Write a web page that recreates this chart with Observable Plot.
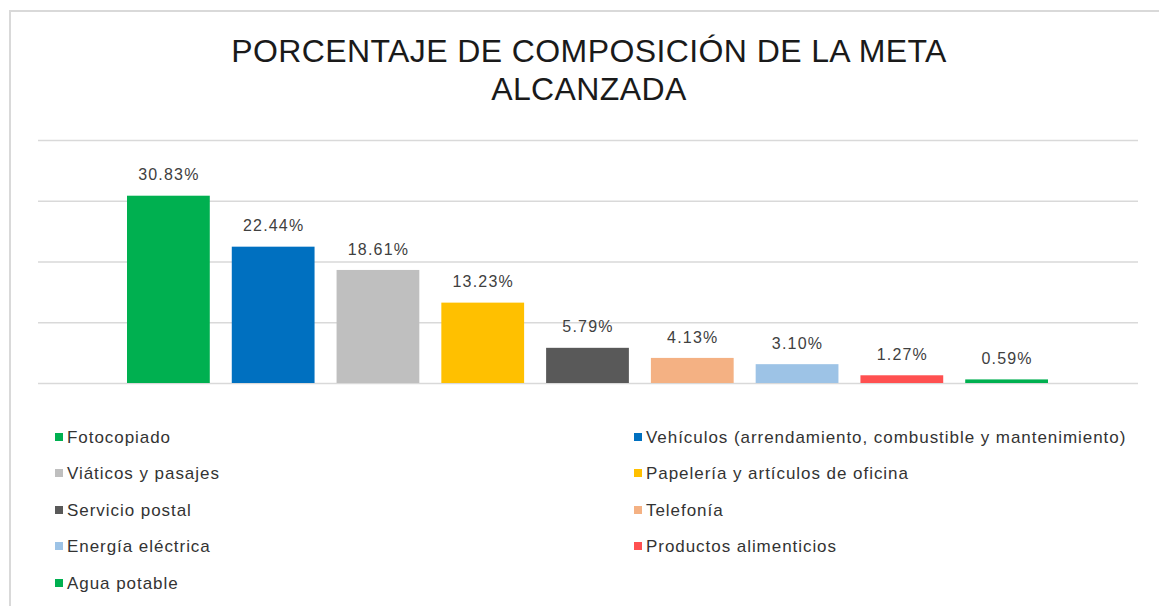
<!DOCTYPE html>
<html>
<head>
<meta charset="utf-8">
<script src="https://cdn.jsdelivr.net/npm/d3@7"></script>
<script src="https://cdn.jsdelivr.net/npm/@observablehq/plot@0.6"></script>
<style>
  html, body { margin: 0; padding: 0; background: #fff; width: 1159px; height: 606px; overflow: hidden; }
  body { position: relative; font-family: "Liberation Sans", Arial, sans-serif; }
  #frame { position: absolute; left: 9px; top: 10px; width: 1170px; height: 620px; border: 2px solid #d9d9d9; box-sizing: border-box; }
  #title { position: absolute; left: 0; width: 1178px; top: 32px; text-align: center; font-size: 32px; line-height: 38px; letter-spacing: 0.4px; color: #1a1a1a; }
  #chart { position: absolute; left: 0; top: 0; }
  #chart text { letter-spacing: 1.2px; }
  .leg { position: absolute; font-size: 17px; letter-spacing: 0.95px; color: #333; white-space: nowrap; line-height: 20px; }
  .leg span.sw { display: inline-block; width: 8px; height: 8px; margin-right: 4px; vertical-align: 2px; }
</style>
</head>
<body>
<div id="frame"></div>
<div id="title">PORCENTAJE DE COMPOSICIÓN DE LA META<br>ALCANZADA</div>
<div id="chart"></div>
<div id="legend"></div>
<script>
const categories = ["Fotocopiado", "Vehículos (arrendamiento, combustible y mantenimiento)", "Viáticos y pasajes", "Papelería y artículos de oficina", "Servicio postal", "Telefonía", "Energía eléctrica", "Productos alimenticios", "Agua potable"];
const values = [30.83, 22.44, 18.61, 13.23, 5.79, 4.13, 3.10, 1.27, 0.59];
const labels = ["30.83%", "22.44%", "18.61%", "13.23%", "5.79%", "4.13%", "3.10%", "1.27%", "0.59%"];
const colors = ["#00B050", "#0070C0", "#BFBFBF", "#FFC000", "#595959", "#F4B183", "#9DC3E6", "#FF5050", "#00B050"];
const gridTicks = [0, 10, 20, 30, 40];

const data = categories.map((c, i) => ({category: c, value: values[i], label: labels[i], color: colors[i]}));

const chart = Plot.plot({
  width: 1159,
  height: 400,
  marginTop: 140,
  marginBottom: 17,
  marginLeft: 38,
  marginRight: 21,
  style: {background: "transparent", fontFamily: "Liberation Sans, Arial, sans-serif"},
  x: {domain: categories, range: [105, 1070], padding: 0.21, round: false, axis: null},
  y: {domain: [0, 40], axis: null},
  marks: [
    Plot.ruleY(gridTicks, {stroke: "#d9d9d9", strokeWidth: 1.5}),
    Plot.barY(data, {x: "category", y: "value", fill: "color"}),
    Plot.text(data, {x: "category", y: "value", text: "label", dy: -21, fontSize: 16, fill: "#404040", textAnchor: "middle", lineAnchor: "middle"})
  ]
});
document.getElementById("chart").appendChild(chart);

const legend = document.getElementById("legend");
const rowY = [428, 464, 501, 537, 574];
data.forEach((d, i) => {
  const col = i % 2, row = Math.floor(i / 2);
  const el = document.createElement("div");
  el.className = "leg";
  el.style.left = (col === 0 ? 55 : 634) + "px";
  el.style.top = rowY[row] + "px";
  el.innerHTML = `<span class="sw" style="background:${d.color}"></span>${d.category}`;
  legend.appendChild(el);
});
</script>
</body>
</html>
